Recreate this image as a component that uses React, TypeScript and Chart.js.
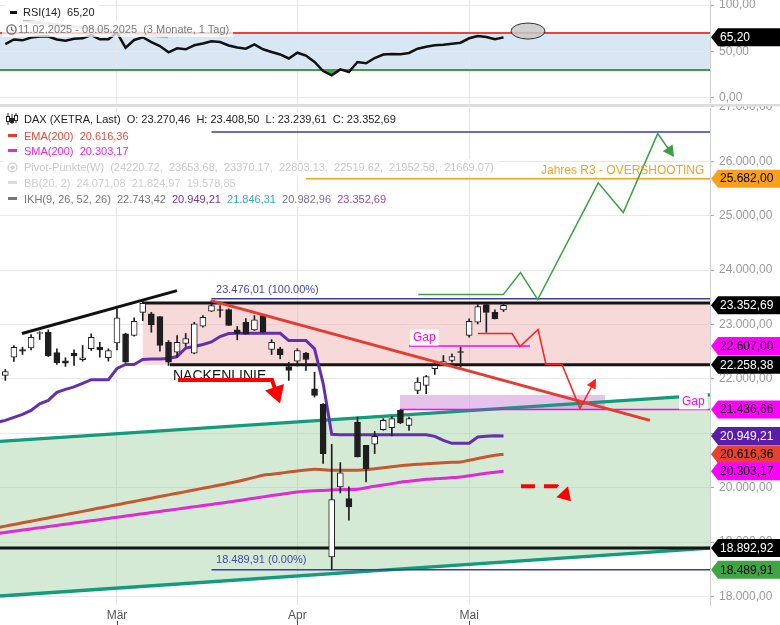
import React, { useEffect, useRef } from "react";
import { Chart, registerables } from "chart.js";

Chart.register(...registerables);

const FONT = "'Liberation Sans', Arial, sans-serif";

// ---------------- axes ----------------
const monthLabels = ["Mär", "Apr", "Mai"];
const monthStartIndex = [13, 34, 54];
const priceTicks = [18000, 19000, 20000, 21000, 22000, 23000, 24000, 25000, 26000, 27000];
const rsiTicks = [0, 50, 100];
const X_MIN = -0.62;
const X_MAX = 82.04;
const Y_MIN = 17843;
const Y_MAX = 26981.5;
const RSI_MIN = -5.38;
const RSI_MAX = 105.38;

// ---------------- candles (index 0 = 12.02.2025 ... 58 = 08.05.2025) ----------------
const opens = [22064, 22400, 22540, 22572, 22835, 22858, 22486, 22334, 22473, 22352,
  22554, 22583, 22389, 22664, 22829, 22798, 23225, 23196, 23146, 22675,
  22491, 22651, 22473, 22968, 23244, 23274, 23275, 22902, 23042, 22902,
  23165, 22541, 22554, 22229, 22326, 22473, 21820, 21532, 18729, 20014,
  19801, 21207, 20779, 20798, 21068, 21104, 21422, 21146, 21789, 21880,
  22187, 22279, 22339, 22504, 22798, 23042, 23367, 23225, 23270.46];
const highs = [22174, 22614, 22583, 22816, 22871, 22902, 22554, 22389, 22535, 22614,
  22829, 22675, 22554, 23288, 22841, 23123, 23440, 23225, 23146, 22706,
  22798, 22835, 23042, 23165, 23440, 23348, 23288, 22963, 23110, 23165,
  23184, 22724, 22583, 22308, 22554, 22491, 22124, 21545, 20798, 20462,
  20014, 21299, 20779, 21036, 21269, 21311, 21434, 21299, 22023, 22063,
  22308, 22430, 22462, 22583, 23104, 23367, 23379, 23269, 23408.5];
const lows = [21973, 22321, 22449, 22535, 22724, 22412, 22266, 22229, 22247, 22326,
  22523, 22400, 22326, 22535, 22302, 22786, 23073, 22858, 22510, 22247,
  22400, 22596, 22462, 22950, 23238, 23134, 22982, 22719, 22825, 22890,
  22858, 22449, 22370, 21972, 22235, 22155, 21666, 20444, 18490, 19904,
  19404, 20565, 20106, 20627, 21055, 20951, 21178, 21055, 21728, 21728,
  22082, 22247, 22308, 22216, 22767, 23012, 22858, 23104, 23239.61];
const closes = [22137, 22583, 22510, 22766, 22850, 22425, 22297, 22290, 22425, 22389,
  22766, 22535, 22522, 23123, 22308, 23060, 23390, 22994, 22614, 22308,
  22675, 22743, 23012, 23134, 23348, 23258, 22982, 22835, 22825, 23086,
  22858, 22675, 22443, 22155, 22522, 22357, 21697, 20627, 19783, 20271,
  19647, 20565, 20351, 20944, 21238, 21269, 21189, 21269, 21941, 22045,
  22248, 22321, 22412, 22486, 23060, 23330, 23225, 23104, 23352.69];

// ---------------- indicators (first value = index -1) ----------------
const indicatorStart = -1;
const ikhKijun = [21201, 21238, 21293, 21348, 21422, 21541, 21605, 21752, 21807, 21853, 21917,
  21985, 21985, 21985, 22192, 22266, 22266, 22357, 22366, 22366, 22376,
  22412, 22568, 22596, 22633, 22679, 22779, 22834, 22840, 22840, 22840,
  22840, 22840, 22840, 22706, 22706, 22706, 22553, 21920, 20981, 20975,
  20975, 20975, 20975, 20975, 20975, 20975, 20975, 20975, 20975, 20975,
  20944, 20871, 20816, 20816, 20816, 20931, 20944, 20954, 20949.21];
const ema200 = [19263, 19293, 19323, 19354, 19384, 19414, 19444, 19475, 19505, 19535, 19565,
  19596, 19626, 19656, 19686, 19717, 19747, 19777, 19807, 19838, 19868,
  19898, 19928, 19959, 19989, 20019, 20050, 20080, 20113, 20152, 20190,
  20229, 20247, 20267, 20287, 20306, 20324, 20339, 20330, 20320, 20320,
  20320, 20320, 20330, 20348, 20366, 20385, 20403, 20418, 20431, 20440,
  20449, 20458, 20467, 20473, 20504, 20535, 20568, 20596, 20616.36];
const sma200 = [19156, 19178, 19199, 19221, 19242, 19263, 19285, 19306, 19328, 19349, 19371,
  19392, 19413, 19435, 19456, 19478, 19499, 19521, 19542, 19564, 19585,
  19606, 19628, 19649, 19671, 19692, 19714, 19735, 19759, 19783, 19807,
  19831, 19855, 19876, 19899, 19922, 19935, 19944, 19950, 19957, 19963,
  19968, 19972, 19999, 20027, 20049, 20073, 20100, 20118, 20137, 20155,
  20164, 20173, 20186, 20195, 20219, 20241, 20265, 20284, 20303.17];
const rsi14 = [58, 63, 62, 65, 66, 66.1, 62.9, 61.6, 63.8, 64.2,
  67.7, 63.1, 63.1, 70.2, 54.1, 62.4, 65.3, 60.2, 55.9, 49.1,
  53.4, 52.4, 56.7, 58.6, 61, 60.2, 56.5, 54.3, 53, 57.7,
  52.4, 49.5, 46.8, 42.5, 48.7, 45.7, 38.7, 29, 24.4, 30.8,
  28, 38.7, 37.3, 43, 46.8, 47.3, 47, 48.4, 53, 55.2,
  56.7, 57.3, 58.4, 59.5, 64.2, 66.7, 65.6, 63.1, 65.2];
const rsiLow = 30;
const rsiHigh = 70;
const rsiTrend = [[2.06, 82.8], [18.94, 65.6]];
const rsiMarker = [60.85, 72.0];

// ---------------- drawings on the price panel (x = bar index, y = price) ----------------
const channelUpper = [[-0.62, 20853], [82.04, 21706]];
const channelLower = [[-0.62, 18008], [82.04, 18889]];
const pinkZoneX = [16.0, 82.04];
const pinkZoneY = [22258.38, 23394];
const gapZoneX = [45.95, 69.81];
const gapZoneY = [21436.66, 21706];
const levelValues = [26541, 25682, 23476.01, 23394, 22258.38, 21436.66, 22607, 18892.92, 18489.91];
const levelFrom = [24.0, 35.0, 24.0, 16.0, 19.17, 45.95, 47.0, -0.62, 24.0];
const levelTo = [82.04, 82.04, 82.04, 82.04, 82.04, 82.04, 61.08, 82.04, 82.04];
const blackTrend = [[1.94, 22834], [19.99, 23624]];
const redTrend = [[23.95, 23440], [75.05, 21238]];
const greenPath = [[48.08, 23550], [57.97, 23550], [59.97, 23954], [61.98, 23458],
  [69.03, 25605], [71.94, 25060], [75.95, 26510], [77.85, 26082]];
const redPath = [[55.03, 22834], [58.99, 22834], [59.92, 22596], [62.02, 22908],
  [62.95, 22266], [64.81, 22266], [66.9, 21458], [68.77, 22009]];
const neckArrow = [[20.1, 21981], [31.05, 21981], [31.98, 21550]];
const dashArrow = [[60.03, 20027], [64.23, 20027], [65.86, 19752]];
const neckText = [19.52, 21985];
const gapTextUpper = [47.46, 22761];
const gapTextLower = [78.78, 21587];
const r3Text = [62.36, 25826];
const fibTop = [24.53, 23476.01];
const fibBottom = [24.53, 18489.91];

const mainTagValues = [25682, 23352.69, 22607, 22258.38, 21436.66, 20949.21, 20616.36, 20303.17, 18892.92, 18489.91];
const mainTagColors = [["#f8a01c", "#000"], ["#000", "#fff"], ["#ff00ff", "#000"], ["#000", "#fff"],
  ["#ff00ff", "#000"], ["#5a1ea6", "#fff"], ["#e5432f", "#000"], ["#ff00ff", "#000"],
  ["#000", "#fff"], ["#3da544", "#000"]];
const rsiTagValue = 65.2;

function de(v, d = 2) {
  const s = Math.abs(v).toFixed(d);
  const [i, f] = s.split(".");
  const g = i.replace(/\B(?=(\d{3})+(?!\d))/g, ".");
  return (v < 0 ? "-" : "") + g + (d ? "," + f : "");
}

function toPx(chart, p) {
  return [chart.scales.x.getPixelForValue(p[0]), chart.scales.y.getPixelForValue(p[1])];
}

function strokePath(ctx, pts, color, width, dash = []) {
  ctx.beginPath();
  pts.forEach((p, k) => (k ? ctx.lineTo(p[0], p[1]) : ctx.moveTo(p[0], p[1])));
  ctx.strokeStyle = color;
  ctx.lineWidth = width;
  ctx.setLineDash(dash);
  ctx.lineJoin = "miter";
  ctx.stroke();
  ctx.setLineDash([]);
}

function arrowPath(ctx, pts, color, width, len, halfW, dash = []) {
  const n = pts.length;
  const a = pts[n - 2], b = pts[n - 1];
  const ang = Math.atan2(b[1] - a[1], b[0] - a[0]);
  const cx = Math.cos(ang), sy = Math.sin(ang);
  const end = [b[0] - len * 0.8 * cx, b[1] - len * 0.8 * sy];
  strokePath(ctx, [...pts.slice(0, n - 1), end], color, width, dash);
  ctx.beginPath();
  ctx.moveTo(b[0], b[1]);
  ctx.lineTo(b[0] - len * cx + halfW * sy, b[1] - len * sy - halfW * cx);
  ctx.lineTo(b[0] - len * cx - halfW * sy, b[1] - len * sy + halfW * cx);
  ctx.closePath();
  ctx.fillStyle = color;
  ctx.fill();
}

function drawTag(ctx, left, y, text, bg, fg) {
  const h = 18, tip = 7;
  ctx.beginPath();
  ctx.moveTo(left, y);
  ctx.lineTo(left + tip, y - h / 2);
  ctx.lineTo(780, y - h / 2);
  ctx.lineTo(780, y + h / 2);
  ctx.lineTo(left + tip, y + h / 2);
  ctx.closePath();
  ctx.fillStyle = bg;
  ctx.fill();
  ctx.fillStyle = fg;
  ctx.font = `12px ${FONT}`;
  ctx.textAlign = "left";
  ctx.textBaseline = "middle";
  ctx.fillText(text, left + tip + 2, y + 0.5);
}

function labelBox(ctx, text, x, y, color, font, bg) {
  ctx.font = font;
  ctx.textAlign = "left";
  ctx.textBaseline = "middle";
  if (bg) {
    const w = ctx.measureText(text).width;
    ctx.fillStyle = bg;
    ctx.fillRect(x - 3, y - 8, w + 6, 16);
  }
  ctx.fillStyle = color;
  ctx.fillText(text, x, y);
}

const levelStyles = [
  ["#3b3ba6", 1.5], ["#f5a21e", 1.5], ["#3b3ba6", 1.5], ["#151515", 3], ["#151515", 3],
  ["#ff00ff", 1.5], ["#ff00ff", 1.5], ["#151515", 3], ["#3b3ba6", 1.5],
];

const mainPlugin = {
  id: "mainDrawings",
  beforeDatasetsDraw(chart) {
    const { ctx, chartArea: a } = chart;
    ctx.save();
    ctx.beginPath();
    ctx.rect(a.left, a.top, a.right - a.left, a.bottom - a.top);
    ctx.clip();
    const poly = [channelUpper[0], channelUpper[1], channelLower[1], channelLower[0]].map((p) => toPx(chart, p));
    ctx.beginPath();
    poly.forEach((p, k) => (k ? ctx.lineTo(p[0], p[1]) : ctx.moveTo(p[0], p[1])));
    ctx.closePath();
    ctx.fillStyle = "rgba(148,203,148,0.4)";
    ctx.fill();
    const p1 = toPx(chart, [pinkZoneX[0], pinkZoneY[1]]);
    const p2 = toPx(chart, [pinkZoneX[1], pinkZoneY[0]]);
    ctx.fillStyle = "rgba(240,180,180,0.5)";
    ctx.fillRect(p1[0], p1[1], p2[0] - p1[0], p2[1] - p1[1]);
    const g1 = toPx(chart, [gapZoneX[0], gapZoneY[1]]);
    const g2 = toPx(chart, [gapZoneX[1], gapZoneY[0]]);
    ctx.fillStyle = "rgba(203,135,215,0.5)";
    ctx.fillRect(g1[0], g1[1], g2[0] - g1[0], g2[1] - g1[1]);
    strokePath(ctx, channelUpper.map((p) => toPx(chart, p)), "#149a7c", 3.3);
    strokePath(ctx, channelLower.map((p) => toPx(chart, p)), "#149a7c", 3.3);
    levelValues.forEach((v, k) => {
      const s = toPx(chart, [levelFrom[k], v]);
      const e = toPx(chart, [levelTo[k], v]);
      strokePath(ctx, [s, e], levelStyles[k][0], levelStyles[k][1]);
    });
    ctx.restore();
  },
  afterDatasetsDraw(chart) {
    const { ctx, chartArea: a } = chart;
    ctx.save();
    ctx.beginPath();
    ctx.rect(a.left, a.top, a.right - a.left, a.bottom - a.top);
    ctx.clip();
    ctx.lineCap = "butt";
    strokePath(ctx, blackTrend.map((p) => toPx(chart, p)), "#111", 3);
    strokePath(ctx, redTrend.map((p) => toPx(chart, p)), "#e63b2e", 3);
    const nt = toPx(chart, neckText);
    ctx.font = `14px ${FONT}`;
    ctx.fillStyle = "#111";
    ctx.textAlign = "left";
    ctx.textBaseline = "alphabetic";
    ctx.fillText("NACKENLINIE", nt[0], nt[1]);
    arrowPath(ctx, neckArrow.map((p) => toPx(chart, p)), "#ff0000", 4, 17, 10);
    arrowPath(ctx, dashArrow.map((p) => toPx(chart, p)), "#ff0000", 4, 13, 8, [14, 9]);
    arrowPath(ctx, greenPath.map((p) => toPx(chart, p)), "#3aa043", 1.5, 11, 6);
    arrowPath(ctx, redPath.map((p) => toPx(chart, p)), "#ff1f1f", 1.5, 10, 5);
    const gu = toPx(chart, gapTextUpper);
    labelBox(ctx, "Gap", gu[0], gu[1], "#ff00ff", `12px ${FONT}`, "#fff");
    const gl = toPx(chart, gapTextLower);
    labelBox(ctx, "Gap", gl[0], gl[1], "#ff00ff", `12px ${FONT}`, "#fff");
    const r3 = toPx(chart, r3Text);
    labelBox(ctx, "Jahres R3 - OVERSHOOTING", r3[0], r3[1], "#f5a21e", `12px ${FONT}`, null);
    const ft = toPx(chart, fibTop);
    labelBox(ctx, de(fibTop[1]) + " (100.00%)", ft[0], ft[1] - 9, "#4646b0", `11px ${FONT}`, null);
    const fb = toPx(chart, fibBottom);
    labelBox(ctx, de(fibBottom[1]) + " (0.00%)", fb[0], fb[1] - 10, "#4646b0", `11px ${FONT}`, null);
    ctx.restore();
  },
  afterDraw(chart) {
    const { ctx, chartArea: a } = chart;
    ctx.save();
    ctx.fillStyle = "#dcdcdc";
    ctx.fillRect(0, 0, 780, 2.5);
    // month tick marks below the labels
    ctx.strokeStyle = "#444";
    ctx.lineWidth = 1;
    monthStartIndex.forEach((v) => {
      const x = Math.round(chart.scales.x.getPixelForValue(v)) + 0.5;
      ctx.beginPath();
      ctx.moveTo(x, chart.height - 4);
      ctx.lineTo(x, chart.height);
      ctx.stroke();
    });
    mainTagValues.forEach((v, k) => {
      const y = chart.scales.y.getPixelForValue(v);
      drawTag(ctx, a.right + 1, y, de(v), mainTagColors[k][0], mainTagColors[k][1]);
    });
    ctx.restore();
  },
};

const rsiPlugin = {
  id: "rsiDrawings",
  beforeDraw(chart) {
    const { ctx, chartArea: a } = chart;
    const y70 = chart.scales.y.getPixelForValue(rsiHigh);
    const y30 = chart.scales.y.getPixelForValue(rsiLow);
    ctx.save();
    ctx.fillStyle = "rgba(179,205,231,0.5)";
    ctx.fillRect(a.left, y70, a.right - a.left, y30 - y70);
    ctx.restore();
  },
  beforeDatasetsDraw(chart) {
    const { ctx, chartArea: a } = chart;
    const y70 = chart.scales.y.getPixelForValue(rsiHigh);
    const y30 = chart.scales.y.getPixelForValue(rsiLow);
    ctx.save();
    strokePath(ctx, [[a.left, y70], [a.right, y70]], "#e8453c", 2);
    strokePath(ctx, [[a.left, y30], [a.right, y30]], "#3a9e48", 2);
    ctx.restore();
  },
  afterDatasetsDraw(chart) {
    const { ctx } = chart;
    ctx.save();
    strokePath(ctx, rsiTrend.map((p) => toPx(chart, p)), "rgba(160,160,160,0.75)", 3);
    const m = toPx(chart, rsiMarker);
    ctx.beginPath();
    ctx.ellipse(m[0], m[1], 17, 8, 0, 0, Math.PI * 2);
    ctx.fillStyle = "rgba(200,200,200,0.85)";
    ctx.fill();
    ctx.strokeStyle = "#333";
    ctx.lineWidth = 1;
    ctx.stroke();
    ctx.restore();
  },
  afterDraw(chart) {
    const { ctx, chartArea: a } = chart;
    ctx.save();
    drawTag(ctx, a.right + 1, chart.scales.y.getPixelForValue(rsiTagValue), de(rsiTagValue), "#000", "#fff");
    ctx.restore();
  },
};

const xAxis = (showLabels) => ({
  type: "linear",
  min: X_MIN,
  max: X_MAX,
  offset: false,
  display: true,
  afterBuildTicks: (s) => {
    s.ticks = monthStartIndex.map((v) => ({ value: v }));
  },
  afterFit: (s) => {
    s.height = showLabels ? 20 : 0;
    s.paddingLeft = 0;
    s.paddingRight = 0;
    s.paddingTop = 0;
    s.paddingBottom = 0;
  },
  grid: { color: "#e6e6e6", drawTicks: false, offset: false },
  border: { display: false },
  ticks: {
    display: showLabels,
    callback: (v, i) => monthLabels[i],
    color: "#555",
    font: { family: FONT, size: 12 },
    padding: 3,
    maxRotation: 0,
    autoSkip: false,
  },
});

const yAxis = (min, max, ticks) => ({
  position: "right",
  min,
  max,
  afterBuildTicks: (s) => {
    s.ticks = ticks.map((v) => ({ value: v }));
  },
  afterFit: (s) => {
    s.width = 70;
    s.paddingTop = 0;
    s.paddingBottom = 0;
    s.paddingLeft = 0;
    s.paddingRight = 0;
  },
  grid: { color: "#e8e8e8", tickColor: "#aaa", tickLength: 4, offset: false },
  border: { color: "#cfcfcf" },
  ticks: {
    callback: (v) => de(v),
    color: "#9a9a9a",
    font: { family: FONT, size: 12 },
    padding: 5,
  },
});

function mainConfig() {
  const idx = opens.map((_, i) => i);
  return {
    type: "bar",
    data: {
      datasets: [
        {
          type: "bar",
          data: idx.map((i) => ({ x: i, y: [opens[i], closes[i]] })),
          backgroundColor: idx.map((i) => (closes[i] >= opens[i] ? "#ffffff" : "#1e1e1e")),
          borderColor: "#1e1e1e",
          borderWidth: 1,
          borderSkipped: false,
          barThickness: 6,
          minBarLength: 1,
          grouped: false,
          order: 0,
        },
        {
          type: "bar",
          data: idx.map((i) => ({ x: i, y: [lows[i], highs[i]] })),
          backgroundColor: "#1e1e1e",
          barThickness: 1,
          grouped: false,
          order: 1,
        },
        {
          type: "line",
          data: ikhKijun.map((v, i) => ({ x: i + indicatorStart, y: v })),
          borderColor: "#6430b0",
          borderWidth: 3,
          pointRadius: 0,
          tension: 0,
          order: 2,
        },
        {
          type: "line",
          data: ema200.map((v, i) => ({ x: i + indicatorStart, y: v })),
          borderColor: "#c5582f",
          borderWidth: 3,
          pointRadius: 0,
          tension: 0.3,
          order: 3,
        },
        {
          type: "line",
          data: sma200.map((v, i) => ({ x: i + indicatorStart, y: v })),
          borderColor: "#e02ad6",
          borderWidth: 3,
          pointRadius: 0,
          tension: 0.3,
          order: 4,
        },
      ],
    },
    options: {
      responsive: false,
      animation: false,
      events: [],
      layout: { padding: { top: 4, left: 0, right: 0, bottom: 0 } },
      plugins: { legend: { display: false }, tooltip: { enabled: false } },
      scales: {
        x: xAxis(true),
        y: yAxis(Y_MIN, Y_MAX, priceTicks),
      },
    },
    plugins: [mainPlugin],
  };
}

function rsiConfig() {
  return {
    type: "line",
    data: {
      datasets: [
        {
          data: rsi14.map((v, i) => ({ x: i, y: v })),
          borderColor: "#111",
          borderWidth: 2.5,
          pointRadius: 0,
          tension: 0,
          fill: { target: { value: rsiLow }, above: "rgba(0,0,0,0)", below: "#3ea84a" },
        },
      ],
    },
    options: {
      responsive: false,
      animation: false,
      events: [],
      layout: { padding: 0 },
      plugins: { legend: { display: false }, tooltip: { enabled: false } },
      scales: {
        x: xAxis(false),
        y: yAxis(RSI_MIN, RSI_MAX, rsiTicks),
      },
    },
    plugins: [rsiPlugin],
  };
}

const rowStyle = (top, left, color, bg = "rgba(255,255,255,0.88)") => ({
  position: "absolute",
  top,
  left,
  height: 16,
  lineHeight: "16px",
  paddingLeft: 20,
  paddingRight: 4,
  background: bg,
  color,
  fontSize: 11,
  fontFamily: FONT,
  whiteSpace: "pre",
});

const dash = (color) => (
  <span style={{ position: "absolute", left: 4, top: 6, width: 9, height: 3, background: color }} />
);

export default function App() {
  const rsiRef = useRef(null);
  const mainRef = useRef(null);
  useEffect(() => {
    const rsiChart = new Chart(rsiRef.current, rsiConfig());
    const mainChart = new Chart(mainRef.current, mainConfig());
    return () => {
      rsiChart.destroy();
      mainChart.destroy();
    };
  }, []);

  return (
    <div style={{ position: "fixed", left: 0, top: 0, width: 780, height: 625, background: "#fff", overflow: "hidden", fontFamily: FONT }}>
      <canvas ref={rsiRef} width={780} height={103} style={{ position: "absolute", left: 0, top: 0, display: "block" }} />
      <canvas ref={mainRef} width={780} height={521} style={{ position: "absolute", left: 0, top: 104, display: "block" }} />

      <div style={{ ...rowStyle(4, 5, "#222", "rgba(255,255,255,0.92)"), paddingLeft: 18 }}>
        <span style={{ position: "absolute", left: 5, top: 7, width: 7, height: 3, background: "#111" }} />
        {"RSI(14)  65,20"}
      </div>
      <div style={{ ...rowStyle(21, 2, "#7a7a7a", "rgba(255,255,255,0.75)"), paddingLeft: 16 }}>
        <svg width="11" height="11" style={{ position: "absolute", left: 4, top: 2.5 }}>
          <circle cx="5.5" cy="5.5" r="4.6" fill="none" stroke="#666" strokeWidth="1.3" />
          <path d="M5.5 2.8 V5.7 L7.6 7" fill="none" stroke="#666" strokeWidth="1.2" />
        </svg>
        {"11.02.2025 - 08.05.2025  (3 Monate, 1 Tag)"}
      </div>

      <div style={rowStyle(111, 4, "#222", "rgba(255,255,255,0.6)")}>
        <svg width="12" height="12" style={{ position: "absolute", left: 2, top: 2 }}>
          <g stroke="#222" strokeWidth="1" fill="none">
            <line x1="2" y1="0" x2="2" y2="12" />
            <rect x="0.5" y="3.5" width="3" height="5" fill="#fff" />
            <line x1="6" y1="1" x2="6" y2="11" />
            <rect x="4.5" y="5.5" width="3" height="4" fill="#222" />
            <line x1="10" y1="0" x2="10" y2="10" />
            <rect x="8.5" y="2.5" width="3" height="5" fill="#fff" />
          </g>
        </svg>
        {"DAX (XETRA, Last)  O: 23.270,46  H: 23.408,50  L: 23.239,61  C: 23.352,69"}
      </div>
      <div style={rowStyle(128, 4, "#ee4a36")}>
        {dash("#ee3b2a")}
        {"EMA(200)  20.616,36"}
      </div>
      <div style={rowStyle(143, 4, "#ee1fee")}>
        {dash("#ee1fee")}
        {"SMA(200)  20.303,17"}
      </div>
      <div style={rowStyle(159, 4, "#c9c9c9")}>
        <svg width="11" height="11" style={{ position: "absolute", left: 3, top: 2.5 }}>
          <circle cx="5.5" cy="5.5" r="4.4" fill="none" stroke="#cfcfcf" strokeWidth="1.3" />
          <circle cx="5.5" cy="5.5" r="2" fill="#cfcfcf" />
        </svg>
        {"Pivot-Punkte(W)  (24220.72,  23653.68,  23370.17,  22803.13,  22519.62,  21952.58,  21669.07)"}
      </div>
      <div style={rowStyle(175, 4, "#cfcfcf")}>
        {dash("#dcdcdc")}
        {"BB(20, 2)  24.071,08  21.824,97  19.578,85"}
      </div>
      <div style={rowStyle(191, 4, "#777")}>
        {dash("#777")}
        {"IKH(9, 26, 52, 26)  22.743,42  "}
        <span style={{ color: "#6a32b8" }}>{"20.949,21  "}</span>
        <span style={{ color: "#3ba2cf" }}>{"21.846,31  "}</span>
        <span style={{ color: "#7a7090" }}>{"20.982,96  "}</span>
        <span style={{ color: "#a04a8a" }}>{"23.352,69"}</span>
      </div>
    </div>
  );
}
